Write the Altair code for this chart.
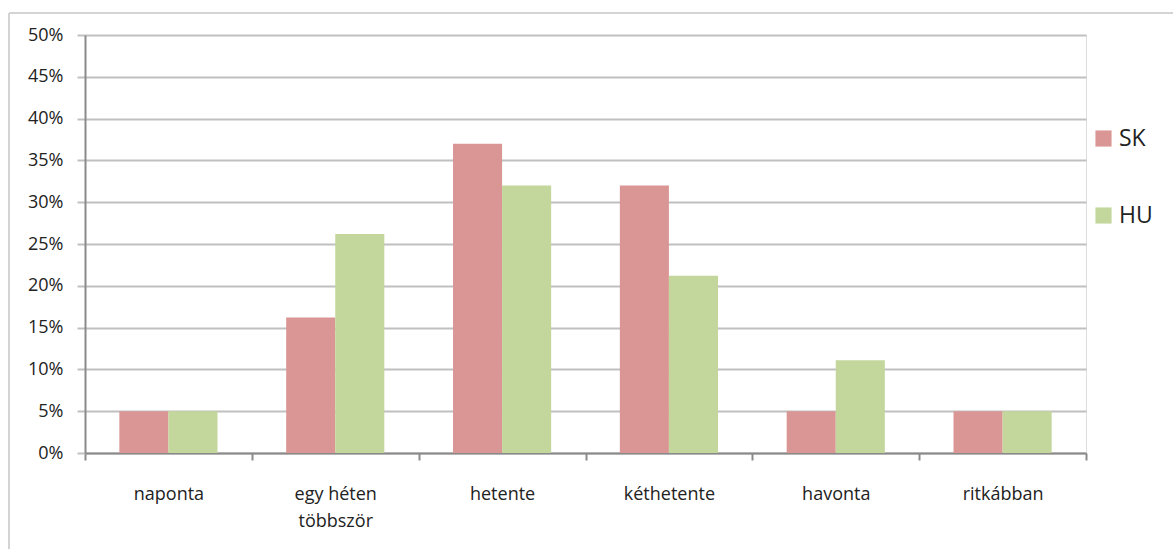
import altair as alt
import pandas as pd

categories = ["naponta", "egy héten többször", "hetente", "kéthetente", "havonta", "ritkábban"]
sk_values = [5, 16.2, 37, 32, 5, 5]
hu_values = [5, 26.2, 32, 21.2, 11.1, 5]
series = ["SK", "HU"]
colors = ["#D99694", "#C3D69B"]

rows = []
for cat, sk, hu in zip(categories, sk_values, hu_values):
    rows.append({"kat": cat, "orszag": "SK", "ertek": sk / 100})
    rows.append({"kat": cat, "orszag": "HU", "ertek": hu / 100})
df = pd.DataFrame(rows)

FONT = "Open Sans"

bars = alt.Chart(df).mark_bar(stroke=None).encode(
    x=alt.X(
        "kat:N",
        sort=categories,
        title=None,
        scale=alt.Scale(paddingInner=0, paddingOuter=0),
        axis=alt.Axis(
            labelAngle=0,
            labelExpr="datum.value == 'egy héten többször' ? ['egy héten', 'többször'] : datum.value",
            labelFont=FONT,
            labelFontSize=18,
            labelColor="#222222",
            labelPadding=34,
            labelLineHeight=27,
            labelBaseline="middle",
            tickBand="extent",
            tickColor="#8A8A8A",
            tickSize=7,
            tickWidth=2,
            domainColor="#8A8A8A",
            domainWidth=2,
            grid=False,
        ),
    ),
    xOffset=alt.XOffset(
        "orszag:N",
        sort=series,
        scale=alt.Scale(paddingInner=0, paddingOuter=0.70),
    ),
    y=alt.Y(
        "ertek:Q",
        title=None,
        scale=alt.Scale(domain=[0, 0.5]),
        axis=alt.Axis(
            format=".0%",
            values=[i / 100 for i in range(0, 51, 5)],
            labelFont=FONT,
            labelFontSize=18,
            labelColor="#222222",
            labelPadding=14,
            tickColor="#C0C0C0",
            tickSize=8,
            tickWidth=2,
            gridColor="#C0C0C0",
            gridWidth=2,
            domainColor="#8A8A8A",
            domainWidth=2,
        ),
    ),
    color=alt.Color(
        "orszag:N",
        sort=series,
        scale=alt.Scale(domain=series, range=colors),
        legend=alt.Legend(
            title=None,
            orient="none",
            legendX=1007,
            legendY=92,
            symbolType="square",
            symbolSize=260,
            symbolStrokeWidth=0,
            labelFont=FONT,
            labelFontSize=23,
            labelColor="#222222",
            rowPadding=53,
            labelOffset=4,
        ),
    ),
)

frame_top = alt.Chart(df).mark_rule(color="#D4D4D4", strokeWidth=2, clip=False).encode(
    x=alt.value(-76), x2=alt.value(1100), y=alt.value(-22)
)
frame_left = alt.Chart(df).mark_rule(color="#D4D4D4", strokeWidth=2, clip=False).encode(
    x=alt.value(-76), y=alt.value(-22), y2=alt.value(520)
)

chart = (
    alt.layer(bars, frame_top, frame_left)
    .properties(
        width=1001,
        height=418,
        padding={"left": 85, "top": 35, "right": 87, "bottom": 96},
        autosize=alt.AutoSizeParams(type="none"),
    )
    .configure_view(stroke=None)
    .configure(background="white")
)

chart.save("out.html", embed_options={"renderer": "svg", "actions": False})
